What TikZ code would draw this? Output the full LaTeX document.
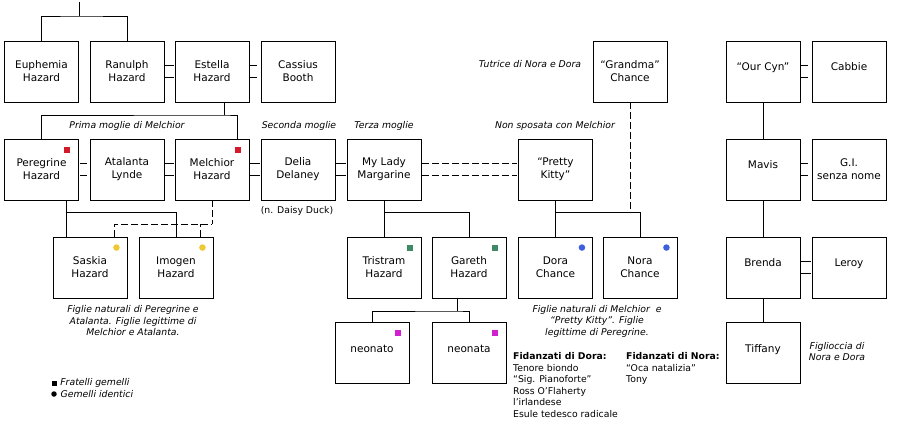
\documentclass[tikz,border=0pt]{standalone}
\usepackage{fontspec}
\setmainfont{DejaVu Sans}
\usetikzlibrary{positioning}

\definecolor{twinred}{HTML}{D21A2A}
\definecolor{twinyellow}{HTML}{F0C834}
\definecolor{twingreen}{HTML}{3F8A66}
\definecolor{twinblue}{HTML}{3D5FE0}
\definecolor{twinpink}{HTML}{D020D0}

\begin{document}
\begin{tikzpicture}[x=1pt, y=-1pt]

      \tikzset{person/.style = {shape=rectangle, draw, line width=0.9pt, minimum width=74pt, minimum height=61pt, inner sep=1pt, align=center, font=\fontsize{10.5}{13}\selectfont}}
      \tikzset{solo/.style = {text depth=9pt}}
      \tikzset{link/.style = {line width=0.8pt}}
      \tikzset{natural/.style = {link, dash pattern=on 7pt off 3pt}}
      \tikzset{wed/.style = {line width=0.8pt, double, double distance=11.8pt, shorten <=0.6pt, shorten >=0.6pt}}
      \tikzset{affair/.style = {wed, dash pattern=on 7pt off 3pt}}
      \tikzset{note/.style = {inner sep=0pt, align=center, font=\fontsize{9.3}{11.5}\selectfont\itshape}}
      \tikzset{list/.style = {inner sep=0pt, align=left, anchor=north west, font=\fontsize{9.3}{11.5}\selectfont}}
      \tikzset{fraternal/.style = {fill=#1, minimum size=6pt, inner sep=0pt}}
      \tikzset{identical/.style = {circle, fill=#1, minimum size=6.5pt, inner sep=0pt}}

      \fill[white] (0,0) rectangle (898,436);
      \useasboundingbox (0,0) rectangle (898,436);

      % persons
      \node[person] (euphemia) at (41.5,71.5) {Euphemia\\Hazard};
      \node[person] (ranulph)  at (127,71.5)  {Ranulph\\Hazard};
      \node[person] (estella)  at (212,71.5)  {Estella\\Hazard};
      \node[person] (cassius)  at (298,71.5)  {Cassius\\Booth};
      \node[person] (grandma)  at (630,71.5)  {“Grandma”\\Chance};
      \node[person, solo] (ourcyn) at (763,71.5) {“Our Cyn”};
      \node[person, solo] (cabbie) at (849,71.5) {Cabbie};

      \node[person] (peregrine) at (41.5,169.5) {Peregrine\\Hazard};
      \node[person] (atalanta)  at (127,169.5)  {Atalanta\\Lynde};
      \node[person] (melchior)  at (212,169.5)  {Melchior\\Hazard};
      \node[person] (delia)     at (298,169.5)  {Delia\\Delaney};
      \node[person] (margarine) at (384,169.5)  {My Lady\\Margarine};
      \node[person] (kitty)     at (555.5,169.5) {“Pretty\\Kitty”};
      \node[person, solo] (mavis) at (763,169.5) {Mavis};
      \node[person] (gi)        at (849,169.5)  {G.I.\\senza nome};

      \node[person] (saskia)   at (90,267.5)    {Saskia\\Hazard};
      \node[person] (imogen)   at (176,267.5)   {Imogen\\Hazard};
      \node[person] (tristram) at (384,267.5)   {Tristram\\Hazard};
      \node[person] (gareth)   at (469,267.5)   {Gareth\\Hazard};
      \node[person] (dora)     at (555.5,267.5) {Dora\\Chance};
      \node[person] (nora)     at (640,267.5)   {Nora\\Chance};
      \node[person, solo] (brenda) at (763,267.5) {Brenda};
      \node[person, solo] (leroy)  at (849,267.5) {Leroy};

      \node[person, solo] (neonato) at (372,353) {neonato};
      \node[person, solo] (neonata) at (469,353) {neonata};
      \node[person, solo] (tiffany) at (763,353) {Tiffany};

      % twins
      \node[fraternal=twinred]    (peregrine-t) at ([shift={(-12,11)}]peregrine.north east) {};
      \node[fraternal=twinred]    (melchior-t)  at ([shift={(-11,11)}]melchior.north east) {};
      \node[identical=twinyellow] (saskia-t)    at ([shift={(-11,11)}]saskia.north east) {};
      \node[identical=twinyellow] (imogen-t)    at ([shift={(-11,11)}]imogen.north east) {};
      \node[fraternal=twingreen]  (tristram-t)  at ([shift={(-11,11)}]tristram.north east) {};
      \node[fraternal=twingreen]  (gareth-t)    at ([shift={(-11,11)}]gareth.north east) {};
      \node[identical=twinblue]   (dora-t)      at ([shift={(-11,11)}]dora.north east) {};
      \node[identical=twinblue]   (nora-t)      at ([shift={(-11,11)}]nora.north east) {};
      \node[fraternal=twinpink]   (neonato-t)   at ([shift={(-11,11)}]neonato.north east) {};
      \node[fraternal=twinpink]   (neonata-t)   at ([shift={(-11,11)}]neonata.north east) {};

      % notes
      \node[note] (tutrice)    at (530,64)   {Tutrice di Nora e Dora};
      \node[note] (prima)      at (127,126)  {Prima moglie di Melchior};
      \node[note] (seconda)    at (299,126)  {Seconda moglie};
      \node[note] (terza)      at (384,126)  {Terza moglie};
      \node[note] (nonsposata) at (555,126)  {Non sposata con Melchior};
      \node[note, font=\fontsize{9.3}{11.5}\selectfont] (daisy) at (297,211) {(n. Daisy Duck)};
      \node[note] (figlie-hz)  at (133,321)  {Figlie naturali di Peregrine e\\Atalanta. Figlie legittime di\\Melchior e Atalanta.};
      \node[note] (figlie-ch)  at (597,321)  {Figlie naturali di Melchior~ e\\“Pretty Kitty”. Figlie\\legittime di Peregrine.};
      \node[note] (figlioccia) at (837,351.5) {Figlioccia di\\Nora e Dora};
      \node[list] (fid-dora) at (513,352.5) {\textbf{Fidanzati di Dora:}\\Tenore biondo\\“Sig. Pianoforte”\\Ross O’Flaherty\\l’irlandese\\Esule tedesco radicale};
      \node[list] (fid-nora) at (626,352.5) {\textbf{Fidanzati di Nora:}\\“Oca natalizia”\\Tony};

      % legend
      \node[fraternal=black, minimum size=5pt] (leg-sq) at (54,383) {};
      \node[identical=black, minimum size=5.5pt] (leg-dot) at (54,394) {};
      \node[note, right=3.5pt of leg-sq]  (leg-frat) {Fratelli gemelli};
      \node[note, right=3.5pt of leg-dot] (leg-gem)  {Gemelli identici};

      %edges
      \coordinate (origin) at (79,2);
      \coordinate (j-top) at (79,16);
      \draw[link] (origin) -- (j-top);
      \draw[link] (euphemia.north) |- (j-top) -| (ranulph.north);

      \coordinate (j-estella) at (224,115);
      \draw[link] (estella.south -| j-estella) -- (j-estella);
      \draw[link] (peregrine.north) |- (j-estella) -| ([xshift=25pt]melchior.north);

      \coordinate (j-peregrine) at (66,212);
      \draw[link] (peregrine.south -| j-peregrine) -- (j-peregrine);
      \draw[link] (saskia.north -| j-peregrine) -- (j-peregrine) -| (imogen.north);

      \coordinate (j-melchior) at (212,224);
      \draw[natural] (melchior.south) -- (j-melchior);
      \draw[natural] ([xshift=24pt]saskia.north) |- (j-melchior);
      \draw[natural] ([xshift=24pt]imogen.north) -- ([xshift=24pt]imogen.north |- j-melchior);

      \coordinate (j-margarine) at (384,212);
      \draw[link] (margarine.south) -- (j-margarine);
      \draw[link] (tristram.north) |- (j-margarine) -| (gareth.north);

      \coordinate (j-kitty) at (555.5,212);
      \draw[link] (kitty.south) -- (j-kitty);
      \draw[link] (dora.north) |- (j-kitty) -| (nora.north);
      \draw[natural] (grandma.south) -- (grandma.south |- j-kitty);

      \coordinate (j-gareth) at (457,311);
      \draw[link] (gareth.south -| j-gareth) -- (j-gareth);
      \draw[link] (neonato.north) |- (j-gareth) -| (neonata.north);

      \draw[link] (ourcyn) -- (mavis);
      \draw[link] (mavis) -- (brenda);
      \draw[link] (brenda) -- (tiffany);

      \draw[wed]    (ranulph) -- (estella);
      \draw[affair] (estella) -- (cassius);
      \draw[affair] (peregrine) -- (atalanta);
      \draw[wed]    (atalanta) -- (melchior);
      \draw[wed]    (melchior) -- (delia);
      \draw[wed]    (delia) -- (margarine);
      \draw[affair] (margarine) -- (kitty);
      \draw[affair] (ourcyn) -- (cabbie);
      \draw[affair] (mavis) -- (gi);
      \draw[wed]    (brenda) -- (leroy);

\end{tikzpicture}
\end{document}
